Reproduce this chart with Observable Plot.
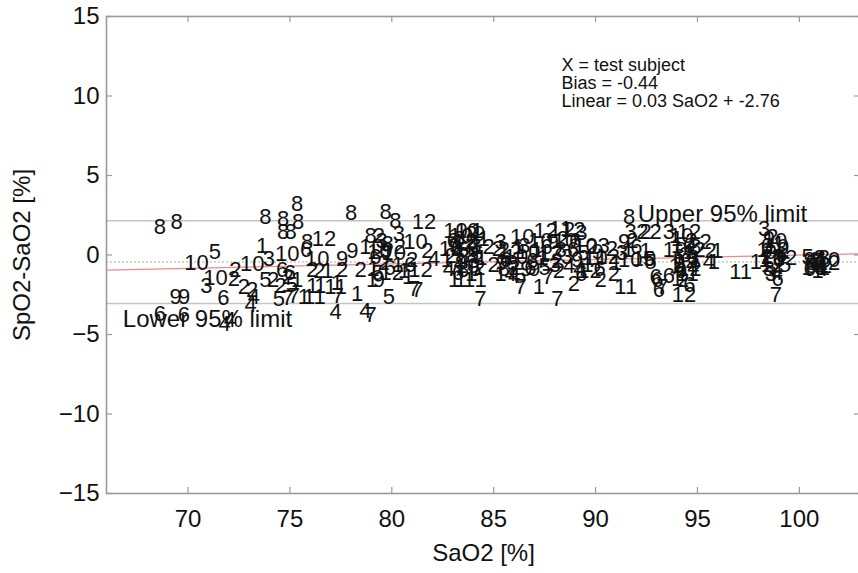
<!DOCTYPE html>
<html><head><meta charset="utf-8">
<script src="https://cdn.jsdelivr.net/npm/d3@7"></script>
<script src="https://cdn.jsdelivr.net/npm/@observablehq/plot@0.6"></script>
<style>html,body{margin:0;padding:0;background:#fff;overflow:hidden}</style>
</head><body><div id="chart"></div>
<script>
// subject id shown as label, SaO2 (x) and SpO2-SaO2 difference (y)
const subject = [
  8,8,10,5,10,3,9,9,6,6,6,4,4,
  2,2,2,2,4,4,10,3,1,5,2,6,2,5,7,7,1,1,6,5,2,8,8,8,8,8,8,10,8,6,10,2,2,1,1,1,11,
  12,2,9,9,2,11,1,7,4,1,1,9,5,4,7,8,8,8,8,2,3,10,6,10,2,8,1,3,6,10,1,9,12,5,2,
  12,10,2,12,4,1,6,2,7,7,1,
  10,10,1,9,6,8,12,2,3,10,4,5,2,6,1,12,9,10,3,2,4,6,1,1,1,1,1,7,
  10,2,1,6,9,12,3,5,8,2,
  3,2,1,4,7,10,6,9,10,2,12,3,10,6,9,2,8,5,
  2,1,9,4,6,
  1,7,7,12,11,12,3,2,2,2,6,10,6,9,1,12,2,8,10,3,6,4,9,5,1,2,10,6,3,12,2,1,9,5,2,2,
  1,2,6,10,9,4,3,12,
  11,8,3,2,2,2,3,9,1,2,3,10,6,5,10,1,6,
  12,2,2,1,4,1,5,6,7,6,12,1,10,1,6,12,3,1,9,11,4,2,6,1,8,2,6,10,
  10,2,1,5,12,3,
  11,1,3,2,6,9,10,1,12,3,2,8,4,5,10,1,6,7,
  9,2,6,10,1,3,12,
  5,9,2,8,3,12,6,10,1,4,2,
  9,2,1,10,5,8
];
const sao2 = [
  68.62,69.44,70.42,71.32,71.35,70.90,69.39,69.81,68.62,69.80,71.73,71.80,72.05,
  72.33,72.25,72.74,73.15,73.23,73.07,73.15,73.97,73.64,73.80,74.18,74.62,74.54,74.46,74.90,75.20,75.36,75.68,75.00,75.10,74.90,73.80,74.67,75.35,75.40,74.67,75.03,74.87,75.85,75.80,76.34,76.10,76.45,76.85,76.10,76.50,76.20,
  76.67,77.56,77.56,78.06,78.47,77.24,77.30,77.35,77.24,78.30,79.04,79.37,79.86,78.70,78.96,78.01,79.70,80.18,78.96,79.37,80.35,79.00,79.20,79.40,79.60,79.80,79.10,79.50,79.90,80.10,80.30,79.75,80.00,79.30,80.40,
  81.58,81.16,81.74,81.41,82.06,80.60,80.90,81.00,81.10,81.26,80.80,
  83.13,83.70,84.19,84.30,83.00,83.30,83.60,83.90,84.10,82.90,83.20,83.50,83.80,84.20,84.40,83.00,83.40,83.70,84.00,84.30,82.80,83.25,83.90,83.06,83.38,83.79,84.36,84.35,
  83.40,83.90,84.50,84.00,83.10,84.45,83.55,84.10,83.50,82.90,
  85.34,85.20,85.34,85.83,86.32,86.40,85.60,85.90,86.10,86.00,85.80,86.50,86.70,86.90,86.60,85.00,85.50,86.30,
  85.50,86.20,85.40,86.00,86.80,
  87.22,87.66,88.12,87.55,88.28,88.90,89.30,88.70,88.94,90.25,89.30,87.30,87.60,87.90,87.40,87.80,88.10,88.30,88.50,88.60,88.90,88.70,89.10,89.40,89.60,89.80,90.00,90.20,90.40,90.60,90.80,91.00,87.00,87.50,88.20,90.90,
  87.10,88.40,89.00,89.50,90.10,89.20,88.00,89.70,
  91.48,91.64,91.72,92.30,92.45,92.95,93.60,91.40,91.60,91.80,91.30,91.70,92.00,92.62,92.37,92.46,93.03,
  94.58,95.40,95.65,95.98,95.56,95.81,92.70,92.95,93.28,93.10,94.34,94.00,94.30,94.60,94.10,94.40,94.80,93.90,94.20,94.50,94.80,94.30,94.60,94.00,94.90,95.10,93.60,93.90,
  94.20,94.70,94.90,94.10,94.60,94.40,
  97.12,97.86,98.27,98.68,98.40,98.60,98.90,98.30,98.70,99.00,99.20,98.50,98.90,99.30,98.80,98.20,98.93,98.85,
  98.50,98.40,99.10,98.70,99.00,98.60,99.30,
  100.40,100.60,100.80,101.00,101.20,101.40,100.50,100.70,100.90,101.10,101.30,
  100.50,100.90,101.20,101.40,100.60,101.00
];
const diff = [
  1.75,2.10,-0.52,0.18,-1.43,-1.92,-2.61,-2.61,-3.70,-3.74,-2.69,-4.32,-4.10,
  -0.93,-1.50,-2.02,-2.17,-2.61,-3.17,-0.55,-0.24,0.60,-1.60,-1.60,-0.97,-1.92,-2.75,-2.70,-2.60,-1.60,-2.65,-1.10,-1.90,-1.40,2.37,2.27,3.20,2.10,1.43,1.43,0.09,0.80,0.33,-0.24,-0.97,-1.00,-1.00,-1.92,-1.92,-2.65,
  1.02,-0.97,-0.24,0.28,-0.97,-2.02,-1.75,-2.60,-3.59,-2.44,-1.60,-1.60,-2.65,-3.49,-3.80,2.63,2.69,2.17,1.22,1.22,1.33,0.50,-0.10,0.20,-0.50,0.70,-0.90,0.90,-0.80,0.10,-0.60,0.30,-1.10,-1.10,0.50,
  2.06,0.80,0.28,-0.97,-0.24,-1.00,-0.60,-0.30,-2.12,-2.20,-1.40,
  1.54,1.54,1.54,1.35,0.90,1.00,0.80,0.90,0.60,0.40,0.20,0.30,0.00,0.10,-0.20,-0.30,-0.50,-0.70,-0.40,-0.80,-0.90,-1.10,-1.20,-1.60,-1.60,-1.60,-1.60,-2.75,
  1.20,1.30,1.00,0.30,0.60,0.50,-0.10,-0.90,-0.95,-0.05,
  0.80,0.40,-1.18,-1.18,-2.02,1.12,-0.30,-0.50,-0.10,-0.80,0.20,0.60,0.20,-0.40,-0.90,-0.60,-0.90,-1.30,
  0.30,0.50,-0.50,-1.30,-0.80,
  -2.02,-1.40,-2.75,1.54,1.65,1.60,1.40,1.55,-1.81,-1.60,-1.20,0.90,0.50,0.80,-0.20,0.10,-0.40,0.30,0.90,-0.10,0.30,-0.70,-0.30,0.10,-0.60,0.50,-0.20,-0.90,0.60,-0.10,0.40,-0.50,-0.90,-0.80,-1.00,-1.20,
  0.30,1.00,0.90,0.60,0.20,-0.90,-0.60,-1.00,
  -2.02,2.37,1.43,1.43,1.43,1.43,1.43,0.80,0.30,0.90,0.10,-0.30,0.50,-0.24,-0.24,0.28,-1.60,
  1.43,0.80,0.24,0.24,-0.45,-0.45,-0.45,-1.39,-2.02,-2.20,-2.54,1.00,0.60,0.20,-0.10,-0.40,-0.20,-0.70,-1.00,-1.20,-0.80,-1.60,-1.90,-1.50,0.50,0.30,-1.30,0.30,
  1.20,0.90,-0.30,-0.60,-0.90,0.00,
  -1.08,-0.45,1.65,1.12,0.60,0.20,0.50,-0.30,-0.60,-0.20,0.30,-0.90,-1.10,-0.60,0.90,0.30,-1.50,-2.54,
  1.00,-0.10,0.00,-0.30,0.70,-1.20,-0.20,
  -0.10,-0.50,-0.30,-0.60,-0.20,-0.50,-0.90,-0.80,-1.00,-0.90,-0.70,
  -0.30,-0.40,-0.80,-0.30,-0.70,-0.20
];

const xTicks = [70, 75, 80, 85, 90, 95, 100];
const yTicks = [-15, -10, -5, 0, 5, 10, 15];
const xDomain = [66, 103];
const yDomain = [-15, 15];
const bias = -0.44;
const limitValues = [2.15, -3.05];
const limitLabels = ["Upper 95% limit", "Lower 95% limit"];
const limitLabelX = [92.07, 66.8];
const regSlope = 0.0275, regIntercept = -2.76;
const annotation = ["X = test subject", "Bias = -0.44", "Linear = 0.03 SaO2 + -2.76"];

const points = subject.map((s, i) => ({s: String(s), x: sao2[i], y: diff[i]}));
const reg = xDomain.map(x => ({x, y: regSlope * x + regIntercept}));

const W = 858, H = 573, ML = 106, MR = -2, MT = 16, MB = 80;
const FW = W - MR - ML, FH = H - MT - MB;
const gray = "#9a9a9a";

const chart = Plot.plot({
  width: W, height: H,
  marginLeft: ML, marginRight: MR, marginTop: MT, marginBottom: MB,
  x: {domain: xDomain},
  y: {domain: yDomain},
  style: {fontFamily: "'Liberation Sans', Arial, Helvetica, sans-serif", fontSize: "24px", color: "#111", background: "#fff"},
  marks: [
    Plot.ruleY(limitValues, {stroke: "#c4c4c4", strokeWidth: 1.6}),
    Plot.ruleY([bias], {stroke: "#aaa", strokeWidth: 1, strokeDasharray: "2,2"}),
    Plot.line(reg, {x: "x", y: "y", stroke: "#f08a8a", strokeWidth: 1.2}),
    Plot.text(points, {x: "x", y: "y", text: "s", fontSize: 22, fill: "#111"}),
    Plot.text([limitLabels[0]], {x: limitLabelX[0], y: limitValues[0], textAnchor: "start", lineAnchor: "bottom", dy: 1, fontSize: 24, fill: "#111"}),
    Plot.text([limitLabels[1]], {x: limitLabelX[1], y: limitValues[1], textAnchor: "start", lineAnchor: "top", dy: 6, fontSize: 24, fill: "#111"}),
    Plot.text([annotation.join("\n")], {frameAnchor: "top-left", dx: 455, dy: 42, textAnchor: "start", lineAnchor: "top", fontSize: 18, lineHeight: 1.0, fill: "#111"}),
    Plot.frame({stroke: gray, strokeWidth: 1.6}),
    Plot.ruleY(yTicks, {stroke: gray, strokeWidth: 1.2, insetRight: FW - 6}),
    Plot.ruleY(yTicks, {stroke: gray, strokeWidth: 1.2, insetLeft: FW - 6}),
    Plot.ruleX(xTicks, {stroke: gray, strokeWidth: 1.2, insetTop: FH - 6}),
    Plot.ruleX(xTicks, {stroke: gray, strokeWidth: 1.2, insetBottom: FH - 6}),
    Plot.axisX({ticks: xTicks, tickSize: 0, tickPadding: 16, label: null, fontSize: 24}),
    Plot.axisY({ticks: yTicks, tickSize: 0, tickPadding: 7, label: null, fontSize: 24}),
    Plot.text(["SaO2 [%]"], {frameAnchor: "bottom", dy: 60, textAnchor: "middle", lineAnchor: "middle", fontSize: 24, fill: "#111"}),
    Plot.text(["SpO2-SaO2 [%]"], {frameAnchor: "left", dx: -84, rotate: -90, textAnchor: "middle", lineAnchor: "middle", fontSize: 24, fill: "#111"})
  ]
});
document.getElementById("chart").appendChild(chart);
</script>
</body></html>
